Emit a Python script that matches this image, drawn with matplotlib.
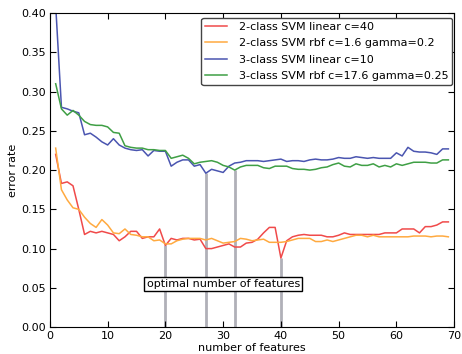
import numpy as np
import matplotlib
matplotlib.use("Agg")
import matplotlib.pyplot as plt

n_features = list(range(1, 70))

err_2c_linear = [0.220, 0.183, 0.185, 0.180, 0.150, 0.118, 0.122, 0.120, 0.122, 0.120,
                 0.118, 0.110, 0.115, 0.122, 0.122, 0.113, 0.115, 0.115, 0.125, 0.104,
                 0.113, 0.111, 0.113, 0.113, 0.111, 0.112, 0.100, 0.100, 0.102, 0.104,
                 0.106, 0.102, 0.102, 0.107, 0.108, 0.112, 0.120, 0.127, 0.127, 0.088,
                 0.110, 0.115, 0.117, 0.118, 0.117, 0.117, 0.117, 0.115, 0.115, 0.117,
                 0.120, 0.118, 0.118, 0.118, 0.118, 0.118, 0.118, 0.120, 0.120, 0.120,
                 0.125, 0.125, 0.125, 0.120, 0.128, 0.128, 0.130, 0.134, 0.134]

err_2c_rbf = [0.228, 0.175, 0.162, 0.152, 0.150, 0.140, 0.132, 0.127, 0.137, 0.130,
              0.120, 0.119, 0.125, 0.118, 0.117, 0.115, 0.115, 0.110, 0.111, 0.106,
              0.106, 0.110, 0.112, 0.113, 0.113, 0.113, 0.111, 0.113, 0.110, 0.107,
              0.108, 0.109, 0.113, 0.112, 0.110, 0.111, 0.112, 0.108, 0.108, 0.108,
              0.109, 0.111, 0.113, 0.113, 0.113, 0.109, 0.109, 0.111, 0.109, 0.111,
              0.113, 0.115, 0.117, 0.117, 0.115, 0.117, 0.115, 0.115, 0.115, 0.115,
              0.115, 0.115, 0.116, 0.116, 0.116, 0.115, 0.116, 0.116, 0.115]

err_3c_linear = [0.410, 0.280, 0.278, 0.275, 0.273, 0.245, 0.247, 0.242, 0.236, 0.232,
                 0.240, 0.232, 0.228, 0.226, 0.225, 0.226, 0.218, 0.225, 0.224, 0.224,
                 0.205, 0.210, 0.213, 0.213, 0.205, 0.207, 0.196, 0.201, 0.199, 0.197,
                 0.205, 0.209, 0.210, 0.212, 0.212, 0.212, 0.211, 0.212, 0.213, 0.214,
                 0.211, 0.212, 0.212, 0.211, 0.213, 0.214, 0.213, 0.213, 0.214, 0.216,
                 0.215, 0.215, 0.217, 0.216, 0.215, 0.216, 0.215, 0.215, 0.215, 0.222,
                 0.218, 0.229, 0.224, 0.223, 0.223, 0.222, 0.220, 0.227, 0.227]

err_3c_rbf = [0.310, 0.278, 0.270, 0.276, 0.270, 0.262, 0.258, 0.257, 0.257, 0.255,
              0.248, 0.247, 0.231, 0.229, 0.228, 0.228, 0.226, 0.226, 0.225, 0.225,
              0.215, 0.217, 0.219, 0.215, 0.208, 0.210, 0.211, 0.212, 0.210, 0.206,
              0.204, 0.200, 0.204, 0.206, 0.206, 0.206, 0.203, 0.202, 0.205, 0.205,
              0.205, 0.202, 0.201, 0.201, 0.200, 0.201, 0.203, 0.204, 0.207, 0.209,
              0.205, 0.204, 0.208, 0.206, 0.206, 0.208, 0.204, 0.206, 0.204, 0.208,
              0.206, 0.208, 0.210, 0.210, 0.210, 0.209, 0.209, 0.213, 0.213]

labels = ["2-class SVM linear c=40",
          "2-class SVM rbf c=1.6 gamma=0.2",
          "3-class SVM linear c=10",
          "3-class SVM rbf c=17.6 gamma=0.25"]
colors = ["#f04a4a", "#ffaa40", "#4a55b0", "#3f9f45"]

optimal_x = [20, 27, 32, 40]
optimal_err = [err_2c_linear[19], err_3c_linear[26], err_3c_rbf[31], err_2c_linear[39]]

plt.rcParams["font.size"] = 8
plt.rcParams["xtick.direction"] = "in"
plt.rcParams["ytick.direction"] = "in"

fig = plt.figure(figsize=(4.62, 3.54), dpi=100)
ax = fig.add_axes([0.108, 0.076, 0.875, 0.887])

for series, lab, col in zip([err_2c_linear, err_2c_rbf, err_3c_linear, err_3c_rbf], labels, colors):
    ax.plot(n_features, series, color=col, lw=1.1, label=lab)

ax.vlines(optimal_x, 0, optimal_err, colors="#b0b0b8", lw=2, zorder=1)
ax.text(30, 0.055, "optimal number of features", ha="center", va="center", fontsize=8,
        bbox=dict(facecolor="white", edgecolor="black", pad=1.5, lw=1))

ax.set_xlim(0, 70)
ax.set_ylim(0, 0.40)
ax.tick_params(top=True, right=True, length=4, pad=3)
ax.set_xlabel("number of features", labelpad=1)
ax.set_ylabel("error rate", labelpad=2)
ax.legend(loc="upper right", bbox_to_anchor=(0.995, 0.985), fontsize=8, frameon=True,
          fancybox=True, edgecolor="#444444", framealpha=1, borderpad=0.35,
          labelspacing=0.58, handlelength=2.0, handletextpad=1.0, borderaxespad=0.0)

fig.savefig("out.png", dpi=100)
